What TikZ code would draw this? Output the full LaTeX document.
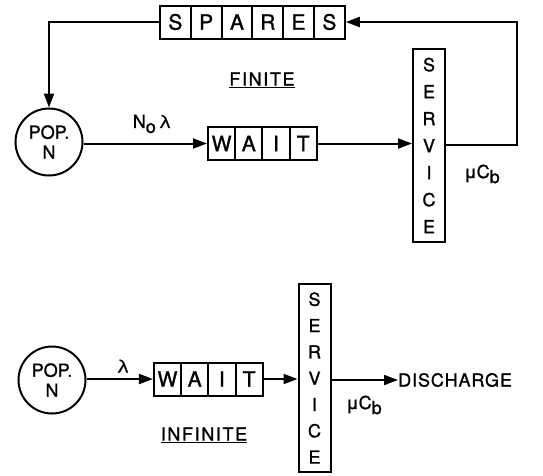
\documentclass[tikz,border=0pt]{standalone}
\usepackage{fontspec}
\setmainfont[FakeBold=1.2]{TeX Gyre Heros}
\usetikzlibrary{arrows.meta}
\begin{document}
\begin{tikzpicture}[x=1pt,y=-1pt,
  cell/.style={draw,line width=2pt,minimum height=33pt,inner sep=0pt,font=\fontsize{21}{21}\selectfont},
  wcell/.style={cell,minimum width=27.2pt},
  scell/.style={cell,minimum width=30.8pt},
  svcbox/.style={draw,line width=2pt,minimum width=32pt,inner sep=0pt,align=center},
  popnode/.style={draw,circle,line width=2pt,minimum size=67pt,inner sep=0pt,align=center,font=\fontsize{18}{20}\selectfont},
  lbl/.style={inner sep=0pt,font=\fontsize{18}{18}\selectfont},
  spaced/.style={lbl,font=\fontsize{18}{18}\selectfont\addfontfeature{LetterSpace=9}},
  flow/.style={line width=2pt,-{Triangle[length=14pt,width=10pt]}},
  plain/.style={line width=2pt}]
\useasboundingbox (0,0) rectangle (543,475);
\fill[white] (0,0) rectangle (543,475);
% ---------- FINITE ----------
\node[scell] (sp1) at (175.4,22) {S};
\node[scell] (sp2) at (206.2,22) {P};
\node[scell] (sp3) at (237.0,22) {A};
\node[scell] (sp4) at (267.8,22) {R};
\node[scell] (sp5) at (298.6,22) {E};
\node[scell] (sp6) at (329.4,22) {S};
\node[popnode] (pop1) at (49,142) {POP.\\N};
\node[wcell] (w1) at (221.6,143.5) {W};
\node[wcell] (w2) at (248.8,143.5) {A};
\node[wcell] (w3) at (276.0,143.5) {I};
\node[wcell] (w4) at (303.2,143.5) {T};
\node[svcbox,minimum height=193pt,font=\fontsize{18}{27}\selectfont] (svc1) at (429,145.5) {S\\E\\R\\V\\I\\C\\E};
\coordinate (c1) at (517,145);
\node[lbl] (nl) at (152,124) {N\raisebox{-5pt}{o}\,λ};
\node[lbl] (mu1) at (482,174) {μC\raisebox{-5pt}{b}};
\node[spaced] (fin) at (262,80) {\underline{FINITE}};
\draw[flow] (sp1.west) -| (pop1.north);
\draw[flow] (pop1.east |- w1.west) -- (w1.west);
\draw[flow] (w4.east) -- (svc1.west |- w4.east);
\draw[flow] (svc1.east |- c1) -- (c1) |- (sp6.east);
% ---------- INFINITE ----------
\node[popnode] (pop2) at (52,380) {POP.\\N};
\node[wcell] (v1) at (167.5,379) {W};
\node[wcell] (v2) at (194.7,379) {A};
\node[wcell] (v3) at (221.9,379) {I};
\node[wcell] (v4) at (249.1,379) {T};
\node[svcbox,minimum height=188pt,font=\fontsize{18}{26.3}\selectfont] (svc2) at (314.5,378) {S\\E\\R\\V\\I\\C\\E};
\node[spaced,anchor=west,font=\fontsize{18}{18}\selectfont\addfontfeature{LetterSpace=5}] (dis) at (398,380) {DISCHARGE};
\node[lbl] (lam) at (123,366) {λ};
\node[lbl] (mu2) at (364,405) {μC\raisebox{-5pt}{b}};
\node[spaced] (inf) at (204,435) {\underline{INFINITE}};
\draw[flow] (pop2.east |- v1.west) -- (v1.west);
\draw[flow] (v4.east) -- (svc2.west |- v4.east);
\draw[flow] (svc2.east |- dis.west) -- (dis.west);
\end{tikzpicture}
\end{document}
